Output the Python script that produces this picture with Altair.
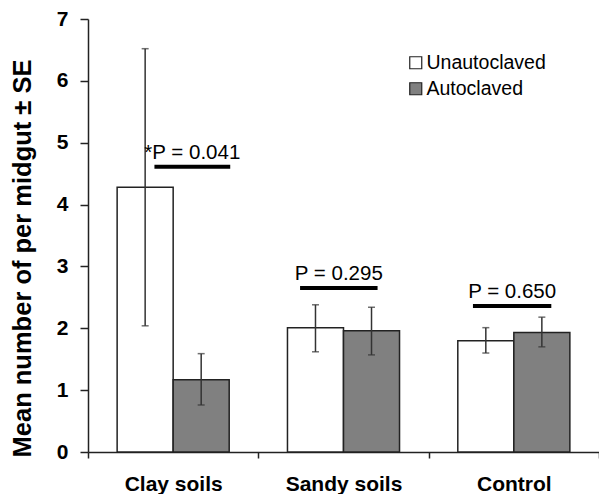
import altair as alt
import pandas as pd

sites = ["Clay soils", "Sandy soils", "Control"]
treatments = ["Unautoclaved", "Autoclaved"]
mean_unaut = [4.28, 2.01, 1.80]
mean_aut = [1.17, 1.96, 1.93]
lo_unaut = [2.04, 1.62, 1.60]
hi_unaut = [6.52, 2.38, 2.01]
lo_aut = [0.76, 1.57, 1.70]
hi_aut = [1.59, 2.34, 2.18]

p_labels = ["*P = 0.041", "P = 0.295", "P = 0.650"]
p_level = [4.61, 2.65, 2.36]
p_start = [0.39, 0.245, 0.26]   # fraction across the site's band
p_end = [0.835, 0.70, 0.72]

rows = []
for i, s in enumerate(sites):
    rows.append({"site": s, "treatment": "Unautoclaved", "mean": mean_unaut[i],
                 "lo": lo_unaut[i], "hi": hi_unaut[i]})
    rows.append({"site": s, "treatment": "Autoclaved", "mean": mean_aut[i],
                 "lo": lo_aut[i], "hi": hi_aut[i]})
df = pd.DataFrame(rows)
adf = pd.DataFrame({"site": sites, "label": p_labels, "level": p_level})

FONT = "Liberation Sans"
INK = "#222222"

xscale = alt.Scale(domain=sites, paddingInner=0, paddingOuter=0)
xoff = alt.XOffset("treatment:N", sort=treatments,
                   scale=alt.Scale(domain=treatments, paddingInner=0, paddingOuter=0.52))
yscale = alt.Scale(domain=[0, 7], nice=False, zero=True)

x_axis = alt.Axis(title=None, tickBand="extent", labelAngle=0, labelFont=FONT,
                  labelFontWeight="bold", labelFontSize=21, labelPadding=15,
                  labelColor="black", tickSize=6, tickColor=INK, domainColor=INK,
                  domainWidth=1.5, tickWidth=1.5, grid=False)
y_axis = alt.Axis(title="Mean number of per midgut ± SE", values=list(range(8)),
                  format="d",
                  titleFont=FONT, titleFontWeight="bold", titleFontSize=25.5,
                  titleColor="black", titleX=-58, titleY=239, titleBaseline="alphabetic",
                  titleAngle=270, titleAlign="center",
                  labelFont=FONT, labelFontWeight="bold", labelFontSize=21,
                  labelColor="black", labelPadding=12, tickSize=8, tickColor=INK,
                  domainColor=INK, domainWidth=1.5, tickWidth=1.5, grid=False)

fill = alt.Fill("treatment:N", sort=treatments,
                scale=alt.Scale(domain=treatments, range=["white", "#808080"]),
                legend=alt.Legend(title=None, orient="none", legendX=318, legendY=34,
                                  symbolType="square", symbolSize=144,
                                  symbolStrokeColor=INK, symbolStrokeWidth=1.2,
                                  labelFont=FONT, labelFontSize=19.5, labelColor="black",
                                  labelOffset=1, rowPadding=5, padding=0))

base = alt.Chart(df)
bars = base.mark_bar(stroke=INK, strokeWidth=1.5).encode(
    x=alt.X("site:N", sort=sites, scale=xscale, axis=x_axis),
    xOffset=xoff,
    y=alt.Y("mean:Q", scale=yscale, axis=y_axis),
    fill=fill,
)
err = base.mark_rule(color="#333333", strokeWidth=1.5).encode(
    x=alt.X("site:N", sort=sites, scale=xscale),
    xOffset=xoff,
    y=alt.Y("lo:Q", scale=yscale),
    y2="hi:Q",
)
cap_lo = base.mark_tick(color="#333333", size=7, thickness=1.5).encode(
    x=alt.X("site:N", sort=sites, scale=xscale),
    xOffset=xoff,
    y=alt.Y("lo:Q", scale=yscale),
)
cap_hi = base.mark_tick(color="#333333", size=7, thickness=1.5).encode(
    x=alt.X("site:N", sort=sites, scale=xscale),
    xOffset=xoff,
    y=alt.Y("hi:Q", scale=yscale),
)

layers = [bars, err, cap_lo, cap_hi]
for i, s in enumerate(sites):
    sub = alt.Chart(adf).transform_filter(alt.datum.site == s)
    layers.append(sub.mark_rule(color="black", strokeWidth=4).encode(
        x=alt.X("site:N", sort=sites, scale=xscale, bandPosition=p_start[i]),
        x2=alt.X2("site:N", bandPosition=p_end[i]),
        y=alt.Y("level:Q", scale=yscale),
    ))
    layers.append(sub.mark_text(font=FONT, fontSize=20.5, color="black",
                                baseline="alphabetic", align="center", dy=-8).encode(
        x=alt.X("site:N", sort=sites, scale=xscale,
                bandPosition=(p_start[i] + p_end[i]) / 2),
        y=alt.Y("level:Q", scale=yscale),
        text="label:N",
    ))

chart = alt.layer(*layers).properties(
    width=511, height=433,
    autosize=alt.AutoSizeParams(type="none"),
    padding={"left": 80, "top": 11, "right": 0, "bottom": 42},
    background="white",
).configure_view(stroke=None)

chart.save("out.html", embed_options={"renderer": "svg", "actions": False})
